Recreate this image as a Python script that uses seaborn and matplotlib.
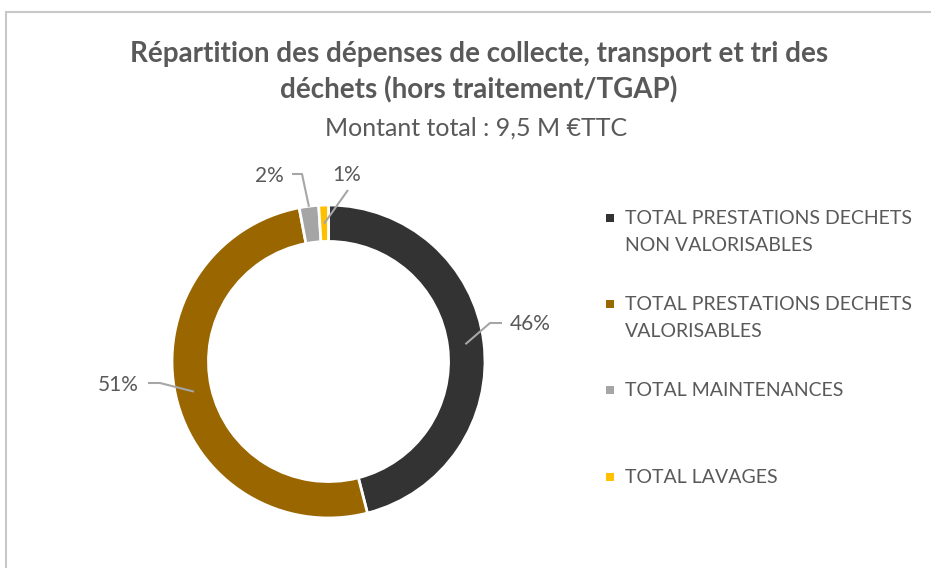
import seaborn as sns
import matplotlib.pyplot as plt
from matplotlib.patches import Rectangle
import numpy as np

# données du graphique
categories = ["TOTAL PRESTATIONS DECHETS\nNON VALORISABLES",
              "TOTAL PRESTATIONS DECHETS\nVALORISABLES",
              "TOTAL MAINTENANCES",
              "TOTAL LAVAGES"]
parts = [46, 51, 2, 1]
pct_labels = ["46%", "51%", "2%", "1%"]
colors = ["#333333", "#996600", "#a5a5a5", "#ffc000"]

titre = "Répartition des dépenses de collecte, transport et tri des\ndéchets (hors traitement/TGAP)"
sous_titre = "Montant total : 9,5 M €TTC"

sns.set_theme(style="white")
plt.rcParams['font.family'] = ['Lato', 'DejaVu Sans']
txt_color = "#595959"

W, H = 931, 568
fig = plt.figure(figsize=(W / 100, H / 100), dpi=100)
ax = fig.add_axes([0, 0, 1, 1])

# centre et rayon du donut (en pixels, y vers le haut)
cx, cy, R = 328.5, H - 361.5, 156.5
wedges, _ = ax.pie(parts, colors=colors, startangle=90, counterclock=False,
                   center=(cx, cy), radius=R,
                   wedgeprops=dict(width=R * 0.233, edgecolor="white", linewidth=2))
ax.set_xlim(0, W)
ax.set_ylim(0, H)
ax.set_aspect("equal")
ax.axis("off")

# étiquettes de pourcentage avec lignes de rappel (positions en pixels image)
label_pos = [(530, 324), (118, 385), (269, 176), (347, 175)]
elbows = [[(490, 323), (502, 323)], [(160, 383), (148, 383)],
          [(302, 174), (292, 174)], [(348, 190)]]
anchor_r = [138, 138, 156, 138]
for w, lab, pos, elb, r in zip(wedges, pct_labels, label_pos, elbows, anchor_r):
    mid = np.deg2rad((w.theta1 + w.theta2) / 2)
    ax_x, ax_y = cx + r * np.cos(mid), cy + r * np.sin(mid)
    xs = [ax_x] + [p[0] for p in elb]
    ys = [ax_y] + [H - p[1] for p in elb]
    ax.plot(xs, ys, color="#a6a6a6", lw=1.5, solid_capstyle="butt")
    ax.text(pos[0], H - pos[1], lab, ha="center", va="center",
            fontsize=15, color=txt_color)

# titre
ax.text(479, H - 72, titre, ha="center", va="center", fontsize=20,
        fontweight="bold", color=txt_color, linespacing=1.4)
ax.text(476, H - 128, sous_titre, ha="center", va="center", fontsize=18,
        color=txt_color)

# légende
leg_y = [218, 304, 390, 477]
for cat, col, y in zip(categories, colors, leg_y):
    ax.add_patch(Rectangle((606, H - y - 4), 8, 8, color=col, lw=0))
    ax.text(625, H - y + 8, cat, ha="left", va="top", fontsize=14,
            color=txt_color, linespacing=1.7)

# cadre
ax.add_patch(Rectangle((5.5, -20), W + 20, H - 12 + 20, fill=False,
                       edgecolor="#c8c8c8", lw=1.5))

fig.savefig("out.png", dpi=100)
